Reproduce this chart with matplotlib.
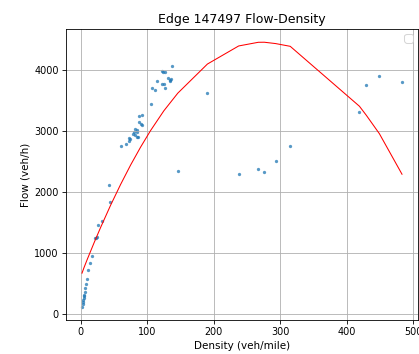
import matplotlib
matplotlib.use("Agg")
import matplotlib.pyplot as plt

# points mesures (densite, debit)
density = [137.5, 121.5, 124, 127, 114, 107, 111.5, 122.5, 125, 127.5,
           131, 134, 135.5, 134, 105.5, 190.5, 88, 91.5, 88, 90.5,
           92.5, 81.5, 84, 80, 85, 79, 81.5, 84, 86.5, 72.5,
           74, 72, 68, 61, 146, 237.5, 267, 276, 293, 315,
           419, 429.5, 449, 483, 42, 44.4, 26.5, 32.5, 21.5, 23,
           25, 16.5, 14, 11.5, 9, 8, 7, 6, 5.5, 5,
           4.5, 4, 3.5, 3, 2.5]
flow = [4054, 3972, 3967, 3956, 3820, 3706, 3662, 3766, 3766, 3695,
        3858, 3837, 3848, 3815, 3434, 3620, 3233, 3250, 3140, 3114,
        3098, 3033, 3016, 2978, 2978, 2951, 2924, 2897, 2897, 2880,
        2858, 2826, 2782, 2749, 2337, 2288, 2375, 2321, 2511, 2745,
        3299, 3745, 3891, 3793, 2113, 1836, 1461, 1521, 1239, 1239,
        1255, 951, 841, 717, 575, 494, 429, 359, 320, 290,
        260, 230, 200, 160, 120]

# courbe ajustee
fit_density = [2, 5, 10, 20, 30, 45, 60, 75, 90, 105, 125, 146, 190.5,
               237.5, 267, 276, 293, 315, 419, 429.5, 449, 483]
fit_flow = [670, 760, 898, 1163, 1418, 1781, 2120, 2437, 2730, 3001, 3325,
            3614, 4090, 4386, 4446, 4447, 4425, 4380, 3400, 3250, 2951, 2288]

fig = plt.figure(figsize=(419 / 75, 354 / 75), dpi=75)
ax = fig.add_axes([66 / 419, 34 / 354, 352 / 419, 291 / 354])
ax.scatter(density, flow, s=10, alpha=0.75, linewidths=0)
ax.plot(fit_density, fit_flow, color="red", linewidth=1)
ax.set_title("Edge 147497 Flow-Density")
ax.set_xlabel("Density (veh/mile)")
ax.set_ylabel("Flow (veh/h)")
ax.tick_params(labelsize=9.3)
ax.grid(True)
ax.legend(loc="upper right")
fig.savefig("out.png", dpi=75)
